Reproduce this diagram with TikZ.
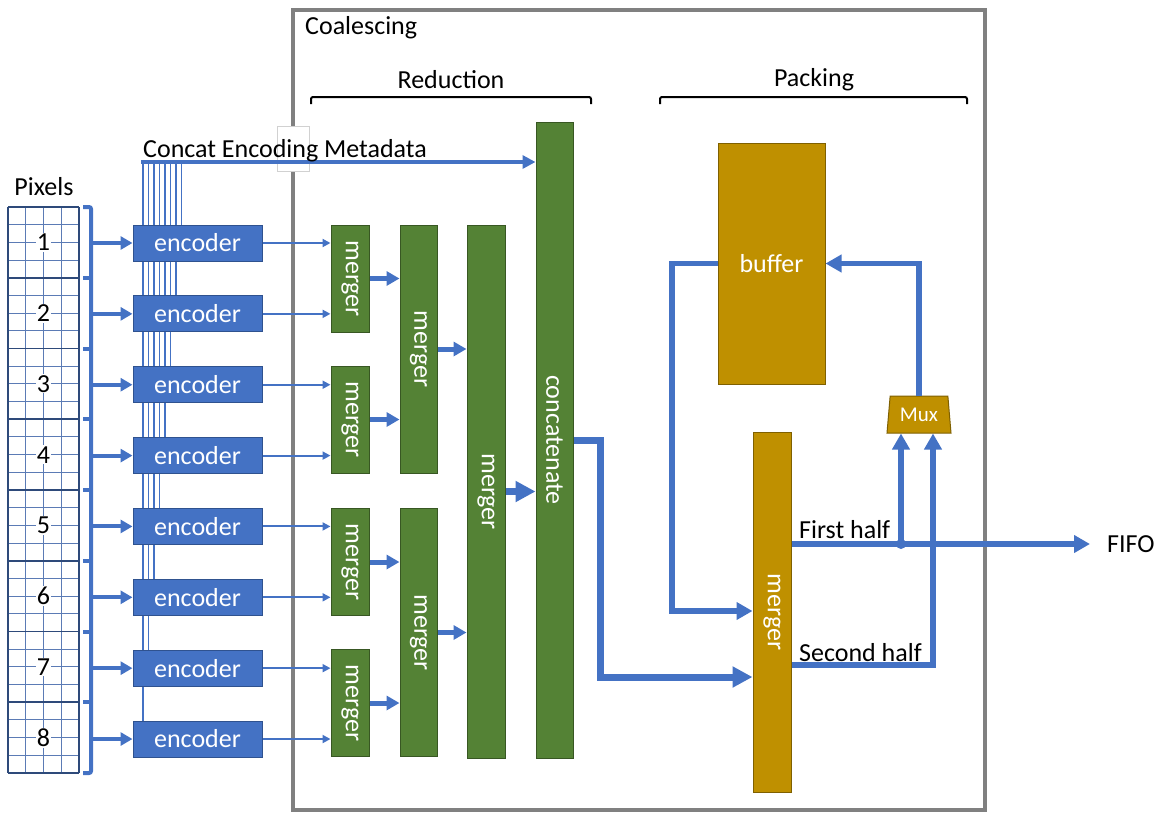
\documentclass[tikz,border=0pt]{standalone}
\usepackage{fontspec}
\setmainfont{Carlito}
\usepackage{graphicx}
\usetikzlibrary{arrows.meta,shapes.geometric}
\definecolor{blu}{HTML}{4472C4}
\definecolor{blub}{HTML}{2F528F}
\definecolor{grn}{HTML}{548235}
\definecolor{grnb}{HTML}{385723}
\definecolor{gld}{HTML}{BF9000}
\definecolor{gldb}{HTML}{7F6000}
\definecolor{framec}{HTML}{808080}
\definecolor{gridl}{HTML}{5B7BB5}
\definecolor{gridd}{HTML}{2E4A7A}
\newcommand{\ff}{\fontsize{26pt}{30pt}\selectfont}
\newcommand{\fsm}{\fontsize{21pt}{24pt}\selectfont}
\tikzset{
  encbox/.style={draw=blub, fill=blu, line width=1pt, minimum width=129pt, minimum height=36pt, inner sep=0pt, text=white, font=\ff},
  grnbox/.style={draw=grnb, fill=grn, line width=1pt, inner sep=0pt, text=white, font=\ff},
  gldbox/.style={draw=gldb, fill=gld, line width=1pt, inner sep=0pt, text=white, font=\ff},
  txt/.style={font=\ff, inner sep=0pt},
  pixarr/.style={blu, line width=4pt, -{Triangle[length=12pt,width=13pt]}},
  thinarr/.style={blu, line width=2pt, -{Triangle[length=8pt,width=8pt]}},
  midarr/.style={blu, line width=5pt, -{Triangle[length=13pt,width=14pt]}},
  bigarr/.style={blu, line width=7pt, -{Triangle[length=20pt,width=20pt]}},
  linarr/.style={blu, line width=5.5pt, -{Triangle[length=16pt,width=17pt]}},
  busln/.style={blu, line width=1.6pt, preaction={draw=white, line width=3.2pt}},
}
\begin{document}
\begin{tikzpicture}[x=1pt,y=-1pt]
\useasboundingbox (0,0) rectangle (1159,814);

% Coalescing frame
\draw[framec, line width=4pt] (293,10) rectangle (985,810);
\node[draw=black!18, fill=white, line width=0.8pt, minimum width=32pt, minimum height=45pt, inner sep=0pt] (wb) at (293,149) {};
\node[txt, anchor=west] (coal) at (305,28) {Coalescing};
\node[txt] (red) at (451,80) {Reduction};
\node[txt] (pack) at (814,80) {Packing};
\draw[black, line width=2pt, rounded corners=2pt] (311,104) -- (311,97) -- (591,97) -- (591,104);
\draw[black, line width=2pt, rounded corners=2pt] (660,104) -- (660,97) -- (967,97) -- (967,104);

% Pixels grid
\node[txt] (pix) at (44,187) {Pixels};
\foreach \i in {0,...,32} \draw[gridl, line width=1pt] (8,{207+\i*17.6875}) -- (79,{207+\i*17.6875});
\foreach \x in {25.75,43.5,61.25} \draw[gridl, line width=1pt] (\x,207) -- (\x,773);
\foreach \i in {0,...,8} \draw[gridd, line width=1.8pt] (8,{207+\i*70.75}) -- (79,{207+\i*70.75});
\draw[gridd, line width=1.6pt] (8,207) -- (8,773) (79,207) -- (79,773);
\foreach \k in {1,...,8} \node[fill=white, inner sep=1pt, font=\ff] (p\k) at (43.5,{242.4+(\k-1)*70.75}) {\k};

% bracket
\draw[blu, line width=4pt, rounded corners=2pt] (83,207) -- (91,207) -- (91,773) -- (83,773);
\foreach \i in {1,...,7} \draw[blu, line width=4pt] (83,{207+\i*70.75}) -- (91,{207+\i*70.75});

% metadata bus (behind the encoders)
\coordinate (mt) at (141,162);
\foreach \k in {1,...,8} {
  \coordinate (t\k) at ({143+(8-\k)*5.5},{226+(\k-1)*70.86});
  \draw[busln] (t\k) -- (t\k |- mt);
}

% encoders
\foreach \k in {1,...,8} {
  \node[encbox] (e\k) at (197.5,{243+(\k-1)*70.86}) {encoder};
  \coordinate (b\k) at (89,{243+(\k-1)*70.86});
  \draw[pixarr] (b\k) -- (e\k.west);
}

% reduction blocks
\node[grnbox, minimum width=38pt, minimum height=107pt] (m1) at (350,278.5) {\rotatebox{-90}{merger}};
\node[grnbox, minimum width=38pt, minimum height=107pt] (m2) at (350,419.5) {\rotatebox{-90}{merger}};
\node[grnbox, minimum width=38pt, minimum height=107pt] (m3) at (350,562) {\rotatebox{-90}{merger}};
\node[grnbox, minimum width=38pt, minimum height=107pt] (m4) at (350,703) {\rotatebox{-90}{merger}};
\node[grnbox, minimum width=37pt, minimum height=248pt] (m5) at (418.5,349) {\rotatebox{-90}{merger}};
\node[grnbox, minimum width=37pt, minimum height=248pt] (m6) at (418.5,632.5) {\rotatebox{-90}{merger}};
\node[grnbox, minimum width=38pt, minimum height=533pt] (m7) at (486,491.5) {\rotatebox{-90}{merger}};
\node[grnbox, minimum width=37pt, minimum height=636pt] (concat) at (554.5,440) {\rotatebox{-90}{concatenate}};

\draw[blu, line width=4pt, -{Triangle[length=13pt,width=13pt]}] (mt) -- (mt -| concat.west);
\node[txt, anchor=base west] (mdt) at (143,157) {Concat Encoding Metadata};

\foreach \k/\m in {1/1,2/1,3/2,4/2,5/3,6/3,7/4,8/4}
  \draw[thinarr] (e\k.east) -- (e\k.east -| m\m.west);
\foreach \a/\b in {m1/m5,m2/m5,m3/m6,m4/m6,m5/m7,m6/m7}
  \draw[midarr] (\a.east) -- (\a.east -| \b.west);
\draw[bigarr] (m7.east) -- (m7.east -| concat.west);

% packing blocks
\node[gldbox, minimum width=107pt, minimum height=241pt] (buffer) at (771.5,263.5) {buffer};
\node[gldbox, minimum width=38pt, minimum height=360pt] (pm) at (772,612) {\rotatebox{-90}{merger}};
\node[gldbox, font=\fsm, trapezium, trapezium angle=77, trapezium stretches body=true, minimum width=64pt, minimum height=37pt] (mux) at (919,414.5) {Mux};

\coordinate (c1) at (600,677);
\draw[bigarr] (concat.east) -| (c1) -- (c1 -| pm.west);
\coordinate (c2) at (672,611);
\draw[linarr] (buffer.west) -| (c2) -- (c2 -| pm.west);
\draw[linarr] (mux.north) |- (buffer.east);

\coordinate (fifo) at (1090,544);
\draw[linarr] (pm.east |- fifo) -- (fifo);
\node[txt, anchor=west] (ft) at (1107,544) {FIFO};
\coordinate (j) at (901,544);
\fill[blu] (j) circle (5pt);
\draw[linarr] (j) -- (j |- mux.south);
\coordinate (c3) at (933,665);
\draw[linarr] (pm.east |- c3) -- (c3) -- (c3 |- mux.south);
\node[txt, anchor=base west] (fh) at (799,538) {First half};
\node[txt, anchor=base west] (sh) at (799,661) {Second half};
\end{tikzpicture}
\end{document}
